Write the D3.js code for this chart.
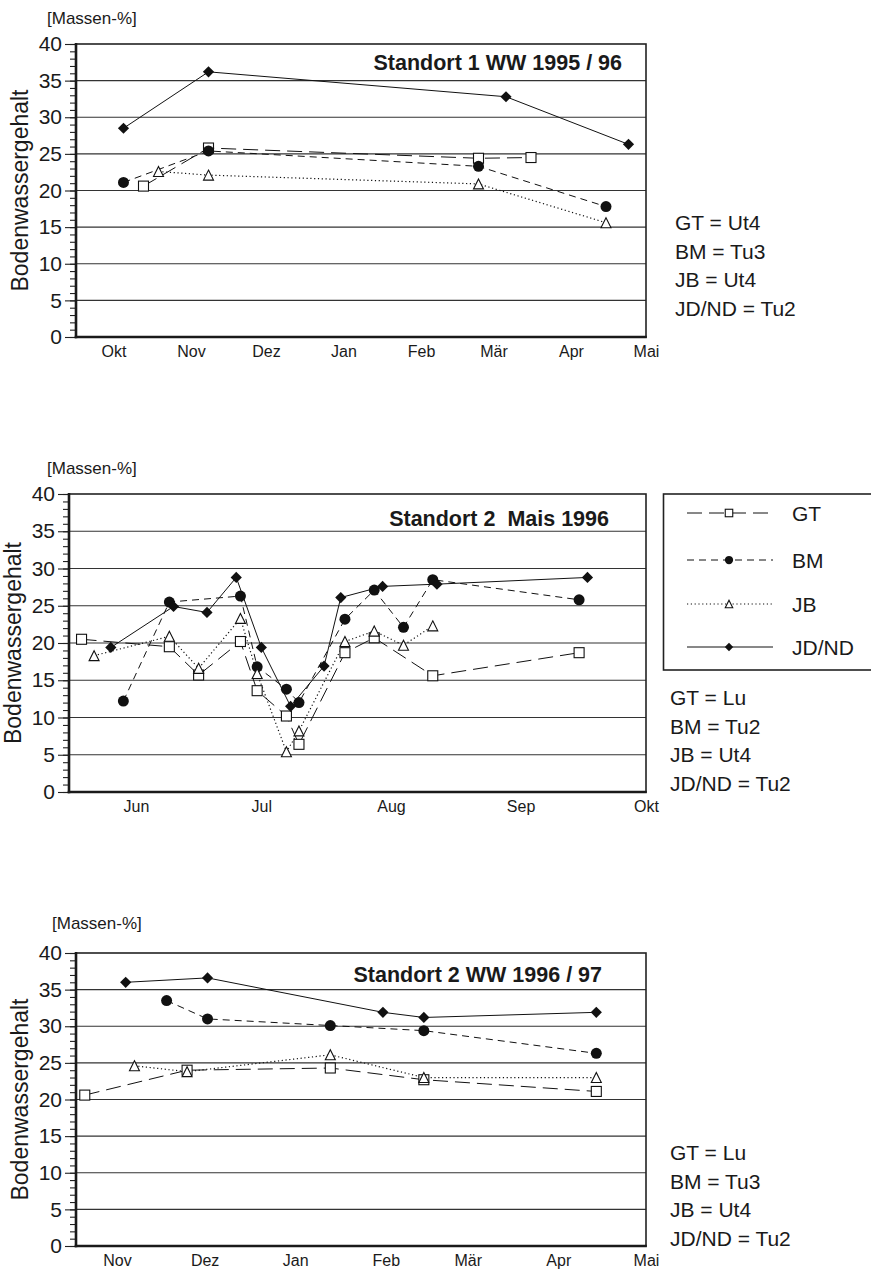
<!DOCTYPE html>
<html>
<head>
<meta charset="utf-8">
<script src="https://cdn.jsdelivr.net/npm/d3@7"></script>
<style>
  body { margin: 0; background: #fff; }
  svg { display: block; font-family: "Liberation Sans", Arial, Helvetica, sans-serif; fill: #1a1a1a; }
  .grid line { stroke: #333; stroke-width: 1.2; }
  .y-axis text { font-size: 21px; fill: #1a1a1a; }
  .y-axis line { stroke: #222; stroke-width: 1.1; }
  .x-axis text { font-size: 16px; fill: #1a1a1a; }
  .title { font-size: 21.5px; font-weight: bold; white-space: pre; }
  .unit { font-size: 17px; }
  .ylabel { font-size: 23px; }
  .soil { font-size: 21px; }
  .legend text { font-size: 21px; }
</style>
</head>
<body>
<svg id="chart" width="871" height="1270"></svg>
<script>
  var parse = d3.timeParse('%Y-%m-%d');

  // Standort 1 WW 1995 / 96
  var gt1 = [['1995-10-13', 20.6], ['1995-11-08', 25.8], ['1996-02-24', 24.4], ['1996-03-16', 24.5]];
  var bm1 = [['1995-10-05', 21.1], ['1995-11-08', 25.4], ['1996-02-24', 23.3], ['1996-04-15', 17.8]];
  var jb1 = [['1995-10-19', 22.6], ['1995-11-08', 22.1], ['1996-02-24', 20.9], ['1996-04-15', 15.6]];
  var jd1 = [['1995-10-05', 28.5], ['1995-11-08', 36.2], ['1996-03-06', 32.8], ['1996-04-24', 26.3]];
  var months1 = ['Okt', 'Nov', 'Dez', 'Jan', 'Feb', 'Mär', 'Apr', 'Mai'];
  var soils1 = ['GT = Ut4', 'BM = Tu3', 'JB = Ut4', 'JD/ND = Tu2'];

  // Standort 2 Mais 1996
  var gt2 = [['1996-05-19', 20.5], ['1996-06-09', 19.5], ['1996-06-16', 15.7], ['1996-06-26', 20.2], ['1996-06-30', 13.6],
    ['1996-07-07', 10.2], ['1996-07-10', 6.4], ['1996-07-21', 18.7], ['1996-07-28', 20.7], ['1996-08-11', 15.6], ['1996-09-15', 18.7]];
  var bm2 = [['1996-05-29', 12.2], ['1996-06-09', 25.5], ['1996-06-26', 26.3], ['1996-06-30', 16.8], ['1996-07-07', 13.8],
    ['1996-07-10', 12.0], ['1996-07-21', 23.2], ['1996-07-28', 27.1], ['1996-08-04', 22.1], ['1996-08-11', 28.5], ['1996-09-15', 25.8]];
  var jb2 = [['1996-05-22', 18.3], ['1996-06-09', 20.9], ['1996-06-16', 16.6], ['1996-06-26', 23.3], ['1996-06-30', 15.9],
    ['1996-07-07', 5.4], ['1996-07-10', 8.2], ['1996-07-21', 20.2], ['1996-07-28', 21.6], ['1996-08-04', 19.7], ['1996-08-11', 22.3]];
  var jd2 = [['1996-05-26', 19.4], ['1996-06-10', 24.9], ['1996-06-18', 24.1], ['1996-06-25', 28.8], ['1996-07-01', 19.4],
    ['1996-07-08', 11.5], ['1996-07-16', 16.9], ['1996-07-20', 26.1], ['1996-07-30', 27.6], ['1996-08-12', 27.9], ['1996-09-17', 28.8]];
  var months2 = ['Jun', 'Jul', 'Aug', 'Sep', 'Okt'];
  var soils2 = ['GT = Lu', 'BM = Tu2', 'JB = Ut4', 'JD/ND = Tu2'];

  // Standort 2 WW 1996 / 97
  var gt3 = [['1996-10-21', 20.6], ['1996-11-25', 24.0], ['1997-01-13', 24.3], ['1997-02-14', 22.7], ['1997-04-14', 21.1]];
  var bm3 = [['1996-11-18', 33.5], ['1996-12-02', 31.0], ['1997-01-13', 30.1], ['1997-02-14', 29.4], ['1997-04-14', 26.3]];
  var jb3 = [['1996-11-07', 24.6], ['1996-11-25', 23.8], ['1997-01-13', 26.1], ['1997-02-14', 23.0], ['1997-04-14', 23.0]];
  var jd3 = [['1996-11-04', 36.0], ['1996-12-02', 36.6], ['1997-01-31', 31.9], ['1997-02-14', 31.2], ['1997-04-14', 31.9]];
  var months3 = ['Nov', 'Dez', 'Jan', 'Feb', 'Mär', 'Apr', 'Mai'];
  var soils3 = ['GT = Lu', 'BM = Tu3', 'JB = Ut4', 'JD/ND = Tu2'];

  var seriesNames = ['GT', 'BM', 'JB', 'JD/ND'];
  var yTicks = [0, 5, 10, 15, 20, 25, 30, 35, 40];

  // line and marker look per series, same order as seriesNames
  var seriesDash = ['15,7', '7,5', '1.2,2.6', null];
  var seriesShape = ['square', 'circle', 'triangle', 'diamond'];

  var charts = [
    { top: 44, bottom: 337, left: 76, right: 646, domain: ['1995-09-16', '1996-05-01'], firstMonth: '1995-10-01',
      months: months1, series: [gt1, bm1, jb1, jd1], title: 'Standort 1 WW 1995 / 96', titleX: 622, titleY: 70,
      unitX: 47, unitY: 24, soils: soils1, soilX: 675, soilY: 230 },
    { top: 494, bottom: 792, left: 69, right: 646, domain: ['1996-05-16', '1996-10-01'], firstMonth: '1996-06-01',
      months: months2, series: [gt2, bm2, jb2, jd2], title: 'Standort 2  Mais 1996', titleX: 609, titleY: 526,
      unitX: 47, unitY: 474, soils: soils2, soilX: 670, soilY: 705, legend: true },
    { top: 953, bottom: 1246, left: 76, right: 646, domain: ['1996-10-18', '1997-05-01'], firstMonth: '1996-11-01',
      months: months3, series: [gt3, bm3, jb3, jd3], title: 'Standort 2 WW 1996 / 97', titleX: 602, titleY: 982,
      unitX: 52, unitY: 929, soils: soils3, soilX: 670, soilY: 1160 }
  ];

  var svg = d3.select('#chart');

  function drawMarker(g, shape, s) {
    if (shape === 'circle') {
      g.append('circle').attr('r', s * 0.55).attr('fill', '#111');
    } else if (shape === 'square') {
      g.append('rect').attr('x', -s / 2).attr('y', -s / 2).attr('width', s).attr('height', s)
        .attr('fill', '#fff').attr('stroke', '#111').attr('stroke-width', 1.1);
    } else if (shape === 'triangle') {
      g.append('path').attr('d', 'M0,' + (-s / 2) + 'L' + (s / 2) + ',' + (s / 2) + 'L' + (-s / 2) + ',' + (s / 2) + 'Z')
        .attr('fill', '#fff').attr('stroke', '#111').attr('stroke-width', 1.1);
    } else {
      var r = s * 0.56;
      g.append('path').attr('d', 'M0,' + (-r) + 'L' + r + ',0L0,' + r + 'L' + (-r) + ',0Z')
        .attr('fill', '#111');
    }
  }

  charts.forEach(function(c) {
    var x = d3.scaleTime().domain(c.domain.map(parse)).range([c.left, c.right]);
    var y = d3.scaleLinear().domain([0, 40]).range([c.bottom, c.top]);
    var g = svg.append('g');

    g.append('g').attr('class', 'grid')
      .selectAll('line').data(yTicks.slice(1, -1)).enter().append('line')
      .attr('x1', c.left).attr('x2', c.right)
      .attr('y1', function(d) { return y(d); }).attr('y2', function(d) { return y(d); });

    // frame: thin top/right, heavier axes
    g.append('rect').attr('x', c.left).attr('y', c.top).attr('width', c.right - c.left).attr('height', c.bottom - c.top)
      .attr('fill', 'none').attr('stroke', '#222').attr('stroke-width', 1.6);

    var minor = g.append('g').attr('class', 'y-axis').attr('transform', 'translate(' + c.left + ',0)')
      .call(d3.axisLeft(y).tickValues(d3.range(0, 41)).tickSize(6).tickFormat(''));
    minor.select('.domain').remove();

    var major = g.append('g').attr('class', 'y-axis').attr('transform', 'translate(' + c.left + ',0)')
      .call(d3.axisLeft(y).tickValues(yTicks).tickSize(11).tickPadding(3));
    major.select('.domain').remove();
    major.selectAll('text').attr('font-family', null);

    g.append('line').attr('x1', c.left).attr('x2', c.left).attr('y1', c.top - 1).attr('y2', c.bottom + 1.3)
      .attr('stroke', '#1a1a1a').attr('stroke-width', 2.6);
    g.append('line').attr('x1', c.left - 1.3).attr('x2', c.right + 0.8).attr('y1', c.bottom).attr('y2', c.bottom)
      .attr('stroke', '#1a1a1a').attr('stroke-width', 2.6);

    var monthDates = c.months.map(function(m, i) { return d3.timeMonth.offset(parse(c.firstMonth), i); });
    var xAxis = g.append('g').attr('class', 'x-axis').attr('transform', 'translate(0,' + c.bottom + ')')
      .call(d3.axisBottom(x).tickValues(monthDates).tickSize(0).tickPadding(9)
        .tickFormat(function(d, i) { return c.months[i]; }));
    xAxis.select('.domain').remove();
    xAxis.selectAll('text').attr('font-family', null);

    var line = d3.line()
      .x(function(d) { return x(parse(d[0])); })
      .y(function(d) { return y(d[1]); });

    c.series.forEach(function(s, i) {
      g.append('path').datum(s).attr('d', line)
        .attr('fill', 'none').attr('stroke', '#111').attr('stroke-width', i === 2 ? 1.2 : 1)
        .attr('stroke-dasharray', seriesDash[i]);
    });
    c.series.forEach(function(s, i) {
      g.selectAll(null).data(s).enter().append('g')
        .attr('transform', function(d) { return 'translate(' + x(parse(d[0])) + ',' + y(d[1]) + ')'; })
        .each(function() { drawMarker(d3.select(this), seriesShape[i], 10); });
    });

    g.append('text').attr('class', 'title').attr('x', c.titleX).attr('y', c.titleY)
      .attr('text-anchor', 'end').attr('xml:space', 'preserve').text(c.title);
    g.append('text').attr('class', 'unit').attr('x', c.unitX).attr('y', c.unitY).text('[Massen-%]');
    g.append('text').attr('class', 'ylabel')
      .attr('transform', 'translate(' + (c.left - 48) + ',' + ((c.top + c.bottom) / 2) + ') rotate(-90)')
      .attr('text-anchor', 'middle').text('Bodenwassergehalt');

    g.append('g').selectAll('text').data(c.soils).enter().append('text').attr('class', 'soil')
      .attr('x', c.soilX).attr('y', function(d, i) { return c.soilY + i * 28.7; })
      .text(function(d) { return d; });

    if (c.legend) {
      var lg = svg.append('g').attr('class', 'legend');
      lg.append('rect').attr('x', 663.5).attr('y', 494).attr('width', 240).attr('height', 176)
        .attr('fill', '#fff').attr('stroke', '#222').attr('stroke-width', 1.6);
      var rowY = [513, 560, 604, 647];
      seriesNames.forEach(function(name, i) {
        var row = lg.append('g').attr('transform', 'translate(0,' + rowY[i] + ')');
        row.append('line').attr('x1', 687).attr('x2', 773).attr('y1', 0).attr('y2', 0)
          .attr('stroke', '#111').attr('stroke-width', i === 2 ? 1.2 : 1).attr('stroke-dasharray', seriesDash[i]);
        drawMarker(row.append('g').attr('transform', 'translate(729,0)'), seriesShape[i], 7.5);
        row.append('text').attr('x', 792).attr('y', 7.5).text(name);
      });
    }
  });
</script>
</body>
</html>
